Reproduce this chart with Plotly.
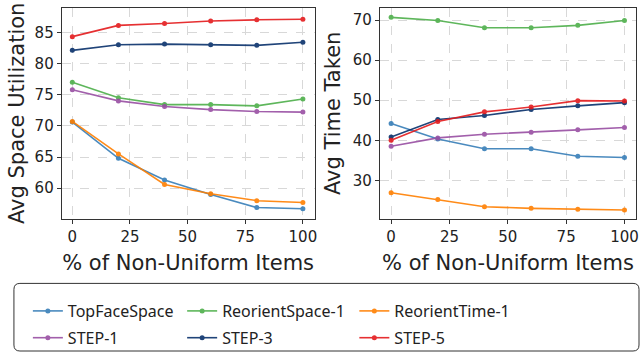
import plotly.graph_objects as go

x_vals = [0, 20, 40, 60, 80, 100]
series_names = ["TopFaceSpace", "ReorientSpace-1", "ReorientTime-1", "STEP-1", "STEP-3", "STEP-5"]
colors = ["#377eb8", "#4daf4a", "#ff7f00", "#984ea3", "#08306b", "#e41a1c"]
legend_ids = ["legend", "legend2", "legend3", "legend", "legend2", "legend3"]

space_top_face = [70.6, 64.8, 61.3, 59.0, 56.9, 56.7]
space_reorient_space = [77.0, 74.5, 73.4, 73.4, 73.2, 74.3]
space_reorient_time = [70.7, 65.5, 60.6, 59.1, 58.0, 57.7]
space_step1 = [75.8, 74.0, 73.1, 72.6, 72.3, 72.2]
space_step3 = [82.1, 83.0, 83.1, 83.0, 82.9, 83.4]
space_step5 = [84.3, 86.1, 86.4, 86.8, 87.0, 87.1]

time_top_face = [44.2, 40.3, 37.9, 37.9, 36.0, 35.7]
time_reorient_space = [70.7, 69.9, 68.1, 68.1, 68.7, 69.9]
time_reorient_time = [26.9, 25.2, 23.4, 23.0, 22.8, 22.6]
time_step1 = [38.5, 40.6, 41.5, 42.0, 42.6, 43.2]
time_step3 = [40.8, 45.2, 46.2, 47.7, 48.6, 49.4]
time_step5 = [40.0, 44.7, 47.1, 48.3, 49.9, 49.8]

space_series = [space_top_face, space_reorient_space, space_reorient_time, space_step1, space_step3, space_step5]
time_series = [time_top_face, time_reorient_space, time_reorient_time, time_step1, time_step3, time_step5]

W, H = 644, 355
fig = go.Figure()

for i, name in enumerate(series_names):
    fig.add_trace(go.Scatter(x=x_vals, y=space_series[i], name=name, mode="lines+markers",
                             line=dict(color=colors[i], width=1.6), marker=dict(color=colors[i], size=5),
                             opacity=0.9, xaxis="x", yaxis="y", legendgroup=name, showlegend=True,
                             legend=legend_ids[i]))
for i, name in enumerate(series_names):
    fig.add_trace(go.Scatter(x=x_vals, y=time_series[i], name=name, mode="lines+markers",
                             line=dict(color=colors[i], width=1.6), marker=dict(color=colors[i], size=5),
                             opacity=0.9, xaxis="x2", yaxis="y2", legendgroup=name, showlegend=False))

ydom = [1 - 220 / H, 1 - 8 / H]
axis_common = dict(showline=True, linecolor="#333333", linewidth=1, mirror=True,
                   ticks="outside", ticklen=4, tickcolor="#333333",
                   showgrid=True, gridcolor="#d8d8d8", griddash="dash", gridwidth=0.8,
                   zeroline=False, tickfont=dict(family="DejaVu Sans", size=15, color="#222222"))
title_font = dict(family="DejaVu Sans", size=21, color="#222222")

legend_common = dict(orientation="v", xanchor="left", yanchor="top", bgcolor="rgba(0,0,0,0)",
                     font=dict(family="Noto Sans", size=16, color="#222222"), tracegroupgap=3,
                     y=1 - 296 / H)

fig.update_layout(
    width=W, height=H, margin=dict(l=0, r=0, t=0, b=0),
    plot_bgcolor="white", paper_bgcolor="white",
    xaxis=dict(domain=[62 / W, 316 / W], range=[-4.6, 105.05], tickvals=[0, 25, 50, 75, 100],
               title=dict(text="% of Non-Uniform Items", font=title_font, standoff=10), anchor="y", **axis_common),
    yaxis=dict(domain=ydom, range=[55.1, 88.9], tickvals=[60, 65, 70, 75, 80, 85],
               title=dict(text="Avg Space Utilization", font=title_font, standoff=4), anchor="x", **axis_common),
    xaxis2=dict(domain=[381.7 / W, 639 / W], range=[-4.8, 104.95], tickvals=[0, 25, 50, 75, 100],
                title=dict(text="% of Non-Uniform Items", font=title_font, standoff=10), anchor="y2", **axis_common),
    yaxis2=dict(domain=ydom, range=[20.4, 73.05], tickvals=[30, 40, 50, 60, 70],
                title=dict(text="Avg Time Taken", font=title_font, standoff=6), anchor="x2", **axis_common),
    legend=dict(x=28 / W, **legend_common),
    legend2=dict(x=183 / W, **legend_common),
    legend3=dict(x=356 / W, **legend_common),
    shapes=[dict(type="path", xref="paper", yref="paper", layer="below",
                 path="M {a},{b} L {c},{b} Q {e},{b} {e},{f} L {e},{g} Q {e},{h} {c},{h} L {a},{h} Q {i},{h} {i},{g} L {i},{f} Q {i},{b} {a},{b} Z".format(
                     a=20 / W, c=636 / W, e=642 / W, i=14 / W,
                     b=1 - 285 / H, f=1 - 291 / H, g=1 - 347 / H, h=1 - 353 / H),
                 line=dict(color="#333333", width=1), fillcolor="white")],
)

fig.write_html("out.html", config={"displayModeBar": False},
               post_script="document.body.style.margin='0';document.body.style.overflow='hidden';")
